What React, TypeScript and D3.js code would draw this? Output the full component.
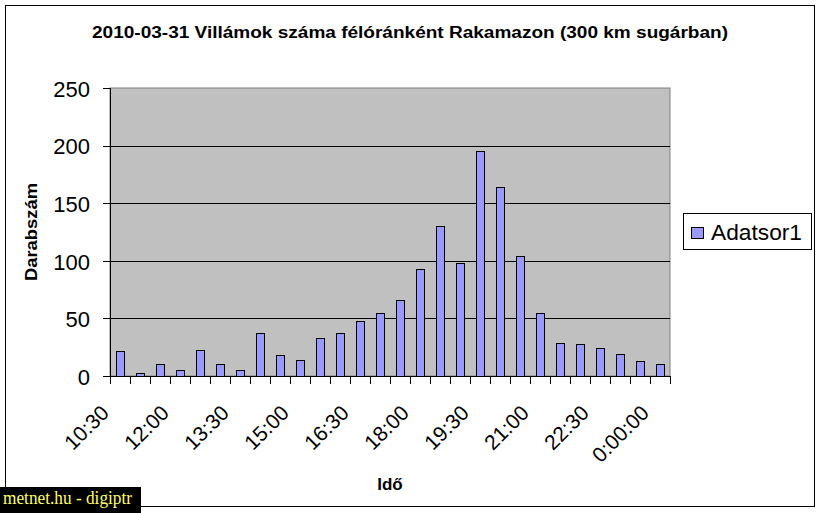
import React from "react";
import * as d3 from "d3";

const TITLE = "2010-03-31 Villámok száma félóránként Rakamazon (300 km sugárban)";
const Y_TITLE = "Darabszám";
const X_TITLE = "Idő";
const SERIES_NAME = "Adatsor1";
const WATERMARK = "metnet.hu - digiptr";

const times = [
  "10:30", "11:00", "11:30", "12:00", "12:30", "13:00", "13:30", "14:00",
  "14:30", "15:00", "15:30", "16:00", "16:30", "17:00", "17:30", "18:00",
  "18:30", "19:00", "19:30", "20:00", "20:30", "21:00", "21:30", "22:00",
  "22:30", "23:00", "23:30", "0:00:00",
];
const counts = [
  22, 3, 10, 5, 23, 10, 5, 37, 18, 14, 33, 37, 48, 55,
  66, 93, 130, 98, 195, 164, 104, 55, 29, 28, 24, 19, 13, 10,
];
const shownLabels = ["10:30", "12:00", "13:30", "15:00", "16:30", "18:00", "19:30", "21:00", "22:30", "0:00:00"];
const yTicks = [0, 50, 100, 150, 200, 250];

const FONT = "Arial, 'Liberation Sans', sans-serif";

export default function App() {
  const W = 821;
  const H = 513;
  const left = 110, right = 670, top = 88, bottom = 376;

  const x = d3.scaleBand<string>().domain(times).range([left, right]).paddingInner(0.6).paddingOuter(0.3);
  const band = d3.scaleBand<string>().domain(times).range([left, right]);
  const y = d3.scaleLinear().domain([0, 250]).range([bottom, top]);

  const boundaries = d3.range(times.length + 1).map((i) => left + i * band.step());

  return (
    <svg width={W} height={H} style={{ position: "absolute", left: 0, top: 0, background: "#fff" }}>
      <rect x={0} y={0} width={W} height={H} fill="#fff" />
      {/* outer frame */}
      <rect x={5.5} y={5.5} width={809} height={501} fill="none" stroke="#000" strokeWidth={1} />

      {/* title */}
      <text x={410} y={38} textAnchor="middle" fontFamily={FONT} fontWeight="bold" fontSize={16}
        textLength={636} lengthAdjust="spacingAndGlyphs">{TITLE}</text>

      {/* plot area */}
      <rect x={left} y={top} width={right - left} height={bottom - top} fill="#C0C0C0" stroke="#808080" strokeWidth={1} />
      {yTicks.filter((t) => t > 0 && t < 250).map((t) => (
        <line key={t} x1={left} x2={right} y1={Math.round(y(t)) + 0.5} y2={Math.round(y(t)) + 0.5} stroke="#000" strokeWidth={1} />
      ))}

      {/* bars */}
      {times.map((t, i) => {
        const v = counts[i];
        const bx = band(t)! + band.step() / 2 - 4;
        const by = Math.round(y(v)) + 0.5;
        return (
          <rect key={t} x={Math.round(bx) + 0.5} y={by} width={8} height={bottom + 0.5 - by}
            fill="#9999FF" stroke="#000" strokeWidth={1} />
        );
      })}

      {/* y axis */}
      <line x1={left + 0.5} x2={left + 0.5} y1={top} y2={bottom + 0.5} stroke="#000" />
      {yTicks.map((t) => (
        <g key={t}>
          <line x1={left - 7} x2={left} y1={Math.round(y(t)) + 0.5} y2={Math.round(y(t)) + 0.5} stroke="#000" />
          <text x={90} y={y(t) + 1} dy="0.35em" textAnchor="end" fontFamily={FONT} fontSize={22}>{t}</text>
        </g>
      ))}

      {/* x axis */}
      <line x1={left} x2={right + 0.5} y1={bottom + 0.5} y2={bottom + 0.5} stroke="#000" />
      {boundaries.map((bx, i) => (
        <line key={i} x1={Math.round(bx) + 0.5} x2={Math.round(bx) + 0.5} y1={bottom} y2={bottom + 8} stroke="#000" />
      ))}
      {shownLabels.map((t) => {
        const cx = band(t)! + band.step() / 2;
        return (
          <text key={t} transform={`translate(${cx - 15},${bottom + 33}) rotate(-45)`} dy="0.35em"
            textAnchor="end" fontFamily={FONT} fontSize={21}>{t}</text>
        );
      })}

      {/* axis titles */}
      <text x={390} y={490} textAnchor="middle" fontFamily={FONT} fontWeight="bold" fontSize={17}>{X_TITLE}</text>
      <text transform={`translate(37,232) rotate(-90)`} textAnchor="middle" fontFamily={FONT} fontWeight="bold" fontSize={17}
        textLength={98} lengthAdjust="spacingAndGlyphs">{Y_TITLE}</text>

      {/* legend */}
      <rect x={683.5} y={213.5} width={128} height={36} fill="#fff" stroke="#000" strokeWidth={1} />
      <rect x={691.5} y={227.5} width={12} height={11} fill="#9999FF" stroke="#000" strokeWidth={1} />
      <text x={711} y={240} fontFamily={FONT} fontSize={22} textLength={91} lengthAdjust="spacingAndGlyphs">{SERIES_NAME}</text>

      {/* watermark */}
      <rect x={0} y={487} width={141} height={26} fill="#000" />
      <text x={3} y={504} fontFamily="'Liberation Serif', 'DejaVu Serif', serif" fontSize={18} fill="#FFFF66"
        textLength={129} lengthAdjust="spacingAndGlyphs">{WATERMARK}</text>
    </svg>
  );
}
